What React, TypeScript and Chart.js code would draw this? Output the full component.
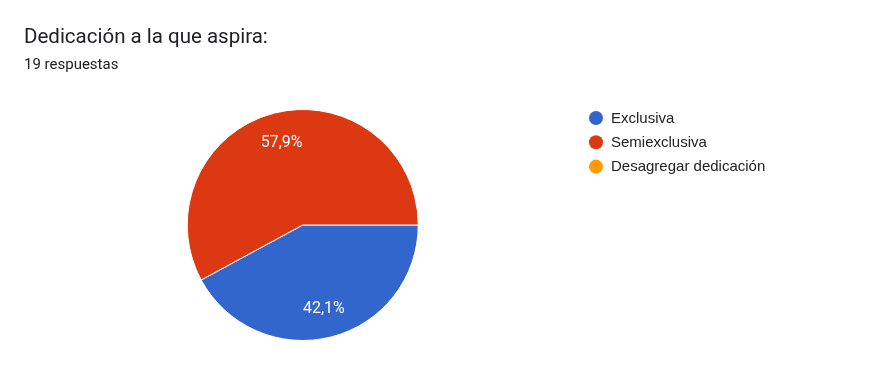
import React, { useEffect, useRef } from "react";
import { Chart, registerables } from "chart.js";

Chart.register(...registerables);

const TITLE = "Dedicación a la que aspira:";
const SUBTITLE = "19 respuestas";
const categories = ["Exclusiva", "Semiexclusiva", "Desagregar dedicación"];
const counts = [8, 11, 0];
const colors = ["#3366cc", "#dc3912", "#ff9900"];

const FONT = "Roboto, 'Noto Sans', Arial, sans-serif";
const LEGEND_FONT = "Arial, 'Liberation Sans', sans-serif";

const overlayPlugin = {
  id: "overlay",
  afterDraw(chart: any) {
    const ctx = chart.ctx as CanvasRenderingContext2D;
    ctx.save();
    // Title & subtitle
    ctx.fillStyle = "#202124";
    ctx.textAlign = "left";
    ctx.textBaseline = "alphabetic";
    ctx.font = `20.5px ${FONT}`;
    ctx.fillText(TITLE, 24, 42.5);
    ctx.font = `15px ${FONT}`;
    ctx.fillText(SUBTITLE, 24, 68.5);

    // Slice labels
    const meta = chart.getDatasetMeta(0);
    const data = chart.data.datasets[0].data as number[];
    const total = data.reduce((a, b) => a + b, 0);
    ctx.font = `16px ${FONT}`;
    ctx.fillStyle = "#ffffff";
    ctx.textAlign = "center";
    ctx.textBaseline = "middle";
    meta.data.forEach((arc: any, i: number) => {
      const v = data[i];
      if (!v) return;
      const p = arc.getProps(["x", "y", "startAngle", "endAngle", "outerRadius"], true);
      const mid = (p.startAngle + p.endAngle) / 2;
      const r = p.outerRadius * 0.745;
      const label = ((v / total) * 100).toFixed(1).replace(".", ",") + "%";
      ctx.fillText(label, p.x + Math.cos(mid) * r, p.y + Math.sin(mid) * r + 1);
    });

    // Legend
    const labels = chart.data.labels as string[];
    const bg = chart.data.datasets[0].backgroundColor as string[];
    ctx.textAlign = "left";
    ctx.textBaseline = "middle";
    ctx.font = `15px ${LEGEND_FONT}`;
    labels.forEach((lab, i) => {
      const cy = 118 + i * 24.3;
      ctx.beginPath();
      ctx.fillStyle = bg[i];
      ctx.arc(596, cy, 7, 0, Math.PI * 2);
      ctx.fill();
      ctx.fillStyle = "#222222";
      ctx.fillText(lab, 611, cy + 0.5);
    });
    ctx.restore();
  },
};

export default function App() {
  const ref = useRef<HTMLCanvasElement | null>(null);
  useEffect(() => {
    document.body.style.margin = "0";
    const chart = new Chart(ref.current as HTMLCanvasElement, {
      type: "pie",
      data: {
        labels: categories,
        datasets: [
          {
            data: counts,
            backgroundColor: colors,
            borderColor: "#ffffff",
            borderWidth: 1,
          },
        ],
      },
      options: {
        animation: false,
        responsive: false,
        rotation: 90,
        radius: 115.5,
        layout: { padding: { left: 187.5, right: 458, top: 110, bottom: 26 } },
        plugins: {
          legend: { display: false },
          tooltip: { enabled: false },
          title: { display: false },
        },
      },
      plugins: [overlayPlugin],
    });
    return () => chart.destroy();
  }, []);
  return (
    <div style={{ position: "absolute", left: 0, top: 0, width: 876, height: 366, background: "#fff" }}>
      <canvas ref={ref} width={876} height={366} style={{ width: 876, height: 366, display: "block" }} />
    </div>
  );
}
